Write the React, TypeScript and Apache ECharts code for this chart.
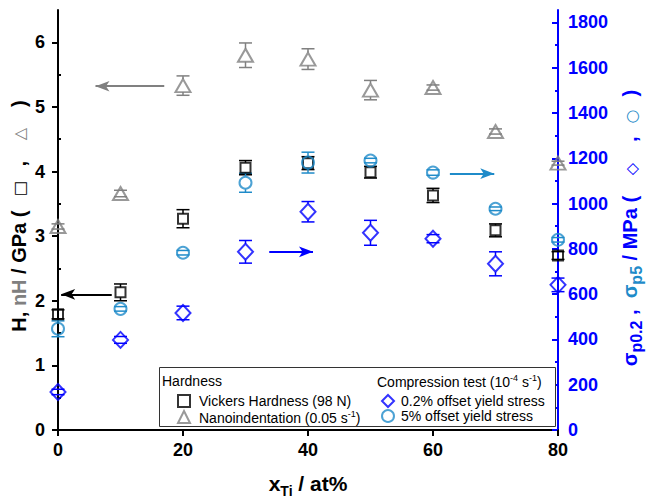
import React, { useEffect, useRef } from 'react';
import * as echarts from 'echarts';

// ---------------- data ----------------
const xTi = [0, 10, 20, 30, 40, 50, 60, 70, 80];
const vickers = [1.79, 2.13, 3.27, 4.06, 4.13, 3.99, 3.63, 3.09, 2.7];
const vickersErr = [0.07, 0.13, 0.14, 0.11, 0.1, 0.09, 0.11, 0.1, 0.06];
const nano = [3.15, 3.66, 5.33, 5.8, 5.74, 5.26, 5.3, 4.62, 4.13];
const nanoErr = [0.04, 0.05, 0.15, 0.19, 0.16, 0.15, 0.04, 0.04, 0.03];
const yield02 = [168, 398, 517, 787, 964, 871, 845, 734, 641];
const yield02Err = [12, 15, 30, 50, 45, 55, 18, 53, 30];
const yield5 = [447, 535, 783, 1092, 1181, 1190, 1137, 977, 840];
const yield5Err = [35, 10, 10, 42, 46, 10, 12, 8, 10];

const xTicks = [0, 20, 40, 60, 80];
const hTicks = [0, 1, 2, 3, 4, 5, 6];
const hMinorTicks = [0.5, 1.5, 2.5, 3.5, 4.5, 5.5];
const sTicks = [0, 200, 400, 600, 800, 1000, 1200, 1400, 1600, 1800];
const sMinorTicks = [100, 300, 500, 700, 900, 1100, 1300, 1500, 1700];

// arrows: [fromX, fromY, toX (tip), toY] in data units
const nanoArrow = [17, 5.32, 6.0, 5.32];
const vickersArrow = [8.6, 2.1, 0.5, 2.1];
const yield02Arrow = [33.8, 787, 40.8, 787];
const yield5Arrow = [62.7, 1132, 69.8, 1132];

const FONT = 'Liberation Sans, Arial, sans-serif';
const BLUE = '#0000ff';
const LBLUE = '#1f8bc9';
const GRAY = '#808080';

const errorRender = (color: string, gap: number) => (params: any, api: any) => {
  const x = api.value(0);
  const v = api.value(1);
  const e = api.value(2);
  const c = api.coord([x, v]);
  const hi = api.coord([x, v + e]);
  const lo = api.coord([x, v - e]);
  const w = 6.5;
  const style = { stroke: color, lineWidth: 1.5, fill: 'none' };
  const children: any[] = [
    { type: 'line', shape: { x1: c[0] - w, y1: hi[1], x2: c[0] + w, y2: hi[1] }, style },
    { type: 'line', shape: { x1: c[0] - w, y1: lo[1], x2: c[0] + w, y2: lo[1] }, style },
  ];
  if (hi[1] < c[1] - gap) {
    children.push({ type: 'line', shape: { x1: c[0], y1: hi[1], x2: c[0], y2: c[1] - gap }, style });
  }
  if (lo[1] > c[1] + gap) {
    children.push({ type: 'line', shape: { x1: c[0], y1: c[1] + gap, x2: c[0], y2: lo[1] }, style });
  }
  return { type: 'group', children };
};

const errorSeries = (vals: number[], errs: number[], color: string, gap: number, yAxisIndex: number) => ({
  type: 'custom',
  yAxisIndex,
  silent: true,
  clip: false,
  z: 2,
  data: xTi.map((x, i) => [x, vals[i], errs[i]]),
  encode: { x: 0, y: 1 },
  renderItem: errorRender(color, gap),
});

const arrowMarkLine = (a: number[], color: string) => ({
  silent: true,
  symbol: ['none', 'arrow'],
  symbolSize: [8, 14],
  label: { show: false },
  lineStyle: { color, width: 2, type: 'solid' },
  emphasis: { disabled: true },
  animation: false,
  data: [[{ coord: [a[0], a[1]] }, { coord: [a[2], a[3]] }]],
});

const hollow = (color: string) => ({ color: 'rgba(255,255,255,0)', borderColor: color, borderWidth: 2 });

const legendNames: Record<string, string> = {
  'Vickers Hardness (98 N)': '{n|Vickers Hardness (98 N)}',
  'Nanoindentation (0.05 s-1)': '{n|Nanoindentation (0.05 s}{sup|-1}{n|)}',
  '0.2% offset yield stress': '{n|0.2% offset yield stress}',
  '5% offset yield stress': '{n|5% offset yield stress}',
};

const legendText = {
  fontFamily: FONT,
  fontSize: 14,
  color: '#000',
  rich: {
    n: { fontFamily: FONT, fontSize: 14, color: '#000', verticalAlign: 'bottom' },
    sup: { fontFamily: FONT, fontSize: 9, color: '#000', verticalAlign: 'bottom', padding: [0, 0, 7, 0] },
  },
};

export default function App() {
  const ref = useRef<HTMLDivElement>(null);
  useEffect(() => {
    if (!ref.current) return;
    const chart = echarts.init(ref.current, undefined, { renderer: 'svg' });
    const boldLabel = { fontFamily: FONT, fontSize: 18, fontWeight: 'bold' };
    const plain = (v: number) => String(v);
    const option: any = {
      animation: false,
      textStyle: { fontFamily: FONT },
      grid: { left: 58, right: 89, top: 10, bottom: 69, containLabel: false, outerBoundsMode: 'none' },
      xAxis: {
        type: 'value',
        min: 0,
        max: 80,
        interval: 20,
        axisLine: { lineStyle: { color: '#000', width: 2 } },
        axisTick: { show: true, inside: false, length: 6, lineStyle: { color: '#000', width: 2 }, customValues: xTicks },
        axisLabel: { ...boldLabel, color: '#000', margin: 11, customValues: xTicks, formatter: plain },
        splitLine: { show: false },
        name: '{m|x}{s|Ti}{m| / at%}',
        nameLocation: 'middle',
        nameGap: 43,
        nameTextStyle: {
          rich: {
            m: { fontFamily: FONT, fontSize: 21, fontWeight: 'bold', color: '#000', verticalAlign: 'bottom', padding: [0, 0, 4, 0] },
            s: { fontFamily: FONT, fontSize: 14, fontWeight: 'bold', color: '#000', verticalAlign: 'bottom' },
          },
        },
      },
      yAxis: [
        {
          type: 'value',
          position: 'left',
          min: 0,
          max: 6.5,
          axisLine: { show: true, lineStyle: { color: '#000', width: 2 } },
          axisTick: { show: true, inside: false, length: 6, lineStyle: { color: '#000', width: 2 }, customValues: hTicks },
          axisLabel: { ...boldLabel, color: '#000', margin: 13, customValues: hTicks, formatter: plain },
          splitLine: { show: false },
        },
        {
          type: 'value',
          position: 'right',
          min: 0,
          max: 1855,
          axisLine: { show: true, lineStyle: { color: BLUE, width: 2 } },
          axisTick: { show: true, inside: true, length: 6, lineStyle: { color: BLUE, width: 2 }, customValues: sTicks },
          axisLabel: { ...boldLabel, color: BLUE, margin: 10, customValues: sTicks, formatter: plain },
          splitLine: { show: false },
        },
        {
          type: 'value',
          position: 'left',
          min: 0,
          max: 6.5,
          axisLine: { show: false },
          axisTick: { show: true, inside: true, length: 3, lineStyle: { color: '#000', width: 2 }, customValues: hMinorTicks },
          axisLabel: { show: false },
          splitLine: { show: false },
        },
        {
          type: 'value',
          position: 'right',
          min: 0,
          max: 1855,
          axisLine: { show: false },
          axisTick: { show: true, inside: true, length: 3, lineStyle: { color: BLUE, width: 2 }, customValues: sMinorTicks },
          axisLabel: { show: false },
          splitLine: { show: false },
        },
      ],
      legend: [
        {
          orient: 'vertical',
          left: 172,
          top: 389,
          itemWidth: 12,
          itemHeight: 12,
          itemGap: 1,
          selectedMode: false,
          data: ['Vickers Hardness (98 N)', 'Nanoindentation (0.05 s-1)'],
          formatter: (n: string) => legendNames[n] || n,
          textStyle: { ...legendText, padding: [0, 0, 0, 4] },
          z: 6,
        },
        {
          orient: 'vertical',
          left: 376,
          top: 389,
          itemWidth: 12,
          itemHeight: 12,
          itemGap: 1,
          selectedMode: false,
          data: ['0.2% offset yield stress', '5% offset yield stress'],
          formatter: (n: string) => legendNames[n] || n,
          textStyle: { ...legendText, padding: [0, 0, 0, 2] },
          z: 6,
        },
      ],
      graphic: [
        {
          type: 'rect',
          z: 4,
          shape: { x: 159.5, y: 367.5, width: 396, height: 59 },
          style: { fill: '#fff', stroke: '#333', lineWidth: 1 },
        },
        {
          type: 'text',
          z: 5,
          x: 162,
          y: 381,
          style: {
            text: 'Hardness',
            fontFamily: FONT,
            fontSize: 14,
            fill: '#000',
            align: 'left',
            verticalAlign: 'middle',
          },
        },
        {
          type: 'text',
          z: 5,
          x: 377,
          y: 381,
          style: {
            text: '{n|Compression test (10}{sup|-4}{n| s}{sup|-1}{n|)}',
            fontFamily: FONT,
            fontSize: 14,
            fill: '#000',
            align: 'left',
            verticalAlign: 'middle',
            rich: {
              n: { fontFamily: FONT, fontSize: 14, fill: '#000', verticalAlign: 'bottom' },
              sup: { fontFamily: FONT, fontSize: 9, fill: '#000', verticalAlign: 'bottom', padding: [0, 0, 7, 0] },
            },
          },
        },
        {
          type: 'text',
          z: 5,
          x: 19,
          y: 216,
          rotation: Math.PI / 2,
          style: {
            text: '{k|H, }{g|nH}{k| / GPa (}{sq|□}{k|,}{tri|△}{k|)}',
            fontFamily: FONT,
            fontSize: 20,
            fontWeight: 'bold',
            fill: '#000',
            align: 'center',
            verticalAlign: 'middle',
            rich: {
              k: { fontFamily: FONT, fontSize: 20, fontWeight: 'bold', fill: '#000' },
              g: { fontFamily: FONT, fontSize: 20, fontWeight: 'bold', fill: GRAY },
              sq: { fontFamily: 'DejaVu Sans', fontSize: 16, fontWeight: 'bold', fill: '#000', width: 44, align: 'center' },
              tri: { fontFamily: 'DejaVu Sans', fontSize: 16, fontWeight: 'bold', fill: GRAY, width: 54, align: 'center' },
            },
          },
        },
        {
          type: 'text',
          z: 5,
          x: 632,
          y: 228,
          rotation: Math.PI / 2,
          style: {
            text: '{b|σ}{bs|p0.2}{b| ,  }{c|σ}{cs|p5}{b| / MPa (}{d|◇}{b|,}{o|○}{b|)}',
            fontFamily: FONT,
            fontSize: 20,
            fontWeight: 'bold',
            fill: BLUE,
            align: 'center',
            verticalAlign: 'middle',
            rich: {
              b: { fontFamily: FONT, fontSize: 20, fontWeight: 'bold', fill: BLUE, verticalAlign: 'bottom', padding: [0, 0, 5, 0] },
              bs: { fontFamily: FONT, fontSize: 16, fontWeight: 'bold', fill: BLUE, verticalAlign: 'bottom' },
              c: { fontFamily: FONT, fontSize: 20, fontWeight: 'bold', fill: LBLUE, verticalAlign: 'bottom', padding: [0, 0, 5, 0] },
              cs: { fontFamily: FONT, fontSize: 16, fontWeight: 'bold', fill: LBLUE, verticalAlign: 'bottom' },
              d: { fontFamily: 'DejaVu Sans', fontSize: 16, fontWeight: 'bold', fill: BLUE, width: 54, align: 'center', verticalAlign: 'bottom', padding: [0, 0, 5, 0] },
              o: { fontFamily: 'DejaVu Sans', fontSize: 16, fontWeight: 'bold', fill: LBLUE, width: 40, align: 'center', verticalAlign: 'bottom', padding: [0, 0, 5, 0] },
            },
          },
        },
      ],
      series: [
        errorSeries(vickers, vickersErr, '#000', 5, 0),
        errorSeries(nano, nanoErr, GRAY, 6.5, 0),
        errorSeries(yield02, yield02Err, BLUE, 8, 1),
        errorSeries(yield5, yield5Err, LBLUE, 6.5, 1),
        {
          type: 'scatter',
          name: 'Vickers Hardness (98 N)',
          yAxisIndex: 0,
          symbol: 'rect',
          symbolSize: 10,
          clip: false,
          z: 3,
          itemStyle: hollow('#000'),
          data: xTi.map((x, i) => [x, vickers[i]]),
          markLine: arrowMarkLine(vickersArrow, '#000'),
        },
        {
          type: 'scatter',
          name: 'Nanoindentation (0.05 s-1)',
          yAxisIndex: 0,
          symbol: 'triangle',
          symbolSize: [15, 13],
          clip: false,
          z: 3,
          itemStyle: hollow(GRAY),
          data: xTi.map((x, i) => [x, nano[i]]),
          markLine: arrowMarkLine(nanoArrow, GRAY),
        },
        {
          type: 'scatter',
          name: '0.2% offset yield stress',
          yAxisIndex: 1,
          symbol: 'diamond',
          symbolSize: [15, 16],
          clip: false,
          z: 3,
          itemStyle: hollow(BLUE),
          data: xTi.map((x, i) => [x, yield02[i]]),
          markLine: arrowMarkLine(yield02Arrow, BLUE),
        },
        {
          type: 'scatter',
          name: '5% offset yield stress',
          yAxisIndex: 1,
          symbol: 'circle',
          symbolSize: 12,
          clip: false,
          z: 3,
          itemStyle: hollow(LBLUE),
          data: xTi.map((x, i) => [x, yield5[i]]),
          markLine: arrowMarkLine(yield5Arrow, LBLUE),
        },
      ],
    };
    chart.setOption(option);
    return () => chart.dispose();
  }, []);
  return <div ref={ref} style={{ width: 647, height: 499, position: 'absolute', left: 0, top: 0 }} />;
}
